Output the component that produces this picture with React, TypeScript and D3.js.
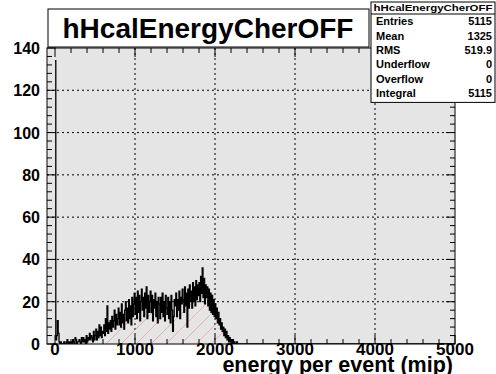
import * as React from 'react';
import * as d3 from 'd3';

const histTitle = 'hHcalEnergyCherOFF';
const xAxisTitle = 'energy per event (mip)';
const xTicks = [0, 1000, 2000, 3000, 4000, 5000];
const yTicks = [0, 20, 40, 60, 80, 100, 120, 140];
const xDomain: [number, number] = [-100, 5000];
const yDomain: [number, number] = [0, 140];

// bins of 10 mip starting at 0, one row per 100 mip
const binLow = 0;
const binWidth = 10;
const binCounts = [
  134, 2, 4, 11, 5, 1, 0, 1, 0, 0,
  0, 1, 0, 0, 1, 2, 0, 1, 0, 1,
  1, 0, 2, 1, 0, 3, 2, 0, 1, 1,
  2, 1, 0, 3, 1, 3, 1, 2, 0, 4,
  1, 3, 2, 5, 2, 4, 3, 1, 6, 2,
  4, 7, 2, 6, 3, 9, 4, 8, 3, 6,
  5, 9, 4, 12, 6, 18, 5, 10, 7, 11,
  6, 13, 8, 11, 16, 7, 14, 9, 12, 17,
  9, 15, 8, 19, 10, 14, 7, 16, 20, 11,
  17, 10, 21, 12, 18, 9, 22, 13, 19, 24,
  14, 22, 12, 25, 15, 23, 11, 20, 26, 16,
  22, 13, 24, 17, 27, 12, 23, 15, 20, 25,
  15, 23, 11, 21, 17, 24, 13, 20, 10, 22,
  19, 12, 22, 15, 24, 13, 20, 11, 23, 17,
  14, 22, 12, 20, 10, 23, 16, 6, 13, 21,
  18, 24, 13, 21, 16, 25, 12, 22, 19, 26,
  21, 15, 27, 18, 24, 8, 26, 17, 28, 20,
  25, 17, 29, 20, 27, 18, 30, 21, 28, 23,
  29, 20, 32, 24, 36, 22, 31, 19, 28, 22,
  27, 18, 26, 16, 24, 15, 23, 14, 21, 13,
  19, 12, 17, 10, 15, 9, 12, 7, 10, 6,
  8, 4, 7, 3, 6, 2, 4, 1, 3, 1,
  2, 0, 2, 0, 1, 0, 0, 1, 0, 0,
];

const statLabels = ['Entries', 'Mean', 'RMS', 'Underflow', 'Overflow', 'Integral'];
const statValues = ['5115', '1325', '519.9', '0', '0', '5115'];

const W = 496;
const H = 374;
const frame = { left: 47, right: 455, top: 48, bottom: 344 };
const font = '"Liberation Sans", Arial, Helvetica, sans-serif';

const App: React.FC = () => {
  const x = d3.scaleLinear().domain(xDomain).range([frame.left, frame.right]);
  const y = d3.scaleLinear().domain(yDomain).range([frame.bottom, frame.top]);

  // step points: [edge, count], last edge repeats the last count
  const pts: [number, number][] = binCounts.map((c, i) => [binLow + i * binWidth, c]);
  pts.push([binLow + binCounts.length * binWidth, 0]);
  pts.push([xDomain[1], 0]);

  const line = d3.line<[number, number]>()
    .x(d => x(d[0]))
    .y(d => y(d[1]))
    .curve(d3.curveStepAfter);
  const area = d3.area<[number, number]>()
    .x(d => x(d[0]))
    .y0(y(0))
    .y1(d => y(d[1]))
    .curve(d3.curveStepAfter);

  const xMinor = d3.range(0, xDomain[1] + 1, 200);
  const yMinor = d3.range(0, yDomain[1] + 1, 4);

  const statTop = 2;
  const statHead = 12;
  const rowH = 14.4;

  return (
    <svg width={W} height={H} style={{ position: 'absolute', left: 0, top: 0, background: '#fff' }}
      fontFamily={font} fontWeight="bold">
      <defs>
        <pattern id="hatch" patternUnits="userSpaceOnUse" width={15} height={15}>
          <path d="M0,15 L15,0 M-3.75,3.75 L3.75,-3.75 M11.25,18.75 L18.75,11.25" stroke="#ee8c8c" strokeWidth={0.6} />
        </pattern>
        <clipPath id="frameClip">
          <rect x={frame.left} y={frame.top} width={frame.right - frame.left} height={frame.bottom - frame.top} />
        </clipPath>
      </defs>

      <rect x={frame.left} y={frame.top} width={frame.right - frame.left} height={frame.bottom - frame.top}
        fill="#e5e5e5" />

      {/* grid */}
      <g stroke="#000" strokeDasharray="2,3" strokeWidth={1}>
        {xTicks.filter(t => t > 0 && t < xDomain[1]).map(t => (
          <line key={'gx' + t} x1={x(t)} x2={x(t)} y1={frame.top} y2={frame.bottom} />
        ))}
        {yTicks.filter(t => t > 0 && t < yDomain[1]).map(t => (
          <line key={'gy' + t} x1={frame.left} x2={frame.right} y1={y(t)} y2={y(t)} />
        ))}
      </g>

      <g clipPath="url(#frameClip)">
        <path d={area(pts) || undefined} fill="url(#hatch)" />
        <path d={line(pts) || undefined} fill="none" stroke="#000" strokeWidth={1.3} />
      </g>

      {/* ticks on all four sides */}
      <g stroke="#000" strokeWidth={1}>
        {xMinor.map(t => {
          const len = t % 1000 === 0 ? 9 : 5;
          return (
            <g key={'tx' + t}>
              <line x1={x(t)} x2={x(t)} y1={frame.bottom} y2={frame.bottom - len} />
              <line x1={x(t)} x2={x(t)} y1={frame.top} y2={frame.top + len} />
            </g>
          );
        })}
        {yMinor.map(t => {
          const len = t % 20 === 0 ? 9 : 5;
          return (
            <g key={'ty' + t}>
              <line x1={frame.left} x2={frame.left + len} y1={y(t)} y2={y(t)} />
              <line x1={frame.right} x2={frame.right - len} y1={y(t)} y2={y(t)} />
            </g>
          );
        })}
      </g>

      <rect x={frame.left} y={frame.top} width={frame.right - frame.left} height={frame.bottom - frame.top}
        fill="none" stroke="#000" strokeWidth={1} />

      {/* tick labels */}
      <g fill="#000">
        {xTicks.map(t => (
          <text key={'lx' + t} x={x(t)} y={355} fontSize={17} textAnchor="middle">{t}</text>
        ))}
        {yTicks.map(t => (
          <text key={'ly' + t} x={40} y={y(t) + 6} fontSize={16} textAnchor="end">{t}</text>
        ))}
      </g>

      <text x={453} y={372} fontSize={21.5} textAnchor="end">{xAxisTitle}</text>

      {/* title box */}
      <rect x={48} y={9} width={321} height={38} fill="#fff" stroke="#000" strokeWidth={1} />
      <text x={208} y={38} fontSize={28} textAnchor="middle">{histTitle}</text>

      {/* stats box */}
      <rect x={371} y={statTop} width={124} height={statHead + rowH * statLabels.length + 2}
        fill="#fff" stroke="#000" strokeWidth={1} />
      <line x1={371} x2={495} y1={statTop + statHead} y2={statTop + statHead} stroke="#000" />
      <text x={433} y={statTop + 9} fontSize={9} textAnchor="middle" textLength={119}
        lengthAdjust="spacingAndGlyphs">{histTitle}</text>
      {statLabels.map((lab, i) => (
        <g key={lab} fontSize={11}>
          <text x={376} y={statTop + statHead + rowH * (i + 0.5) + 4}>{lab}</text>
          <text x={492} y={statTop + statHead + rowH * (i + 0.5) + 4} textAnchor="end">{statValues[i]}</text>
        </g>
      ))}
    </svg>
  );
};

export default App;
